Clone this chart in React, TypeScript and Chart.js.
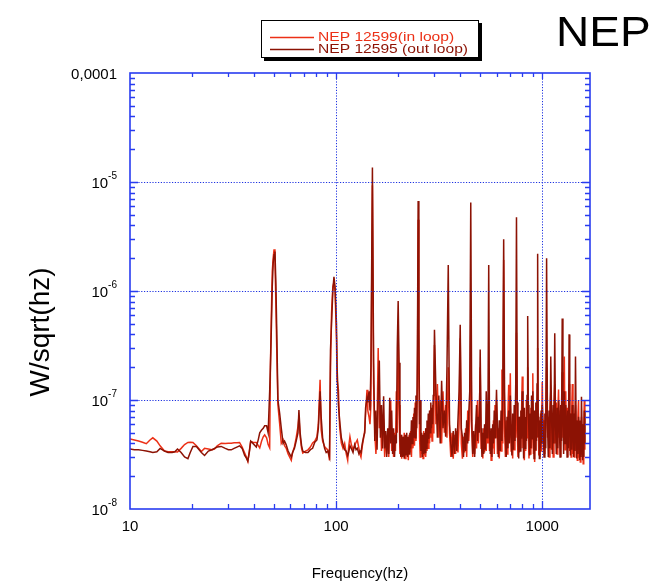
import React, { useEffect, useRef } from 'react';
import { Chart, registerables } from 'chart.js';

Chart.register(...registerables);

// ---------- data (values in units of 1e-8 W/sqrt(Hz)) ----------
const FREQ_A = [10, 10.5, 11, 11.5, 12, 12.5, 12.9, 13.5, 14, 14.7, 15.3, 16, 16.5, 17, 17.7, 18.4, 19.1, 19.6, 20.2, 21, 22.2, 23, 24, 25, 25.7, 26.5, 27.7, 29, 30, 31, 32, 33, 34, 35, 36, 36.7, 37.3, 38, 38.5, 39.5, 41, 42, 42.6, 43.5, 44.3, 45, 46, 46.8, 47.6];
const IN_A = [4.4, 4.3, 4.2, 4.1, 3.97, 4.3, 4.5, 4.2, 3.8, 3.4, 3.35, 3.35, 3.35, 3.33, 3.6, 3.9, 4.08, 4.1, 4.08, 3.8, 3.37, 3.6, 3.55, 3.5, 3.55, 3.8, 4.02, 4.0, 4.02, 4.02, 4.05, 4.06, 4.08, 3.7, 3.26, 3.0, 2.73, 3.5, 4.16, 4.1, 4.08, 3.8, 3.64, 4.2, 4.6, 4.79, 4.5, 3.9, 3.64];
const OUT_A = [3.55, 3.5, 3.5, 3.45, 3.4, 3.35, 3.3, 3.35, 3.6, 3.4, 3.3, 3.3, 3.35, 3.55, 3.3, 3.0, 2.9, 3.3, 3.75, 3.75, 3.3, 3.1, 3.4, 3.5, 3.6, 3.7, 3.75, 3.6, 3.5, 3.49, 3.6, 3.7, 3.8, 3.6, 3.1, 2.93, 2.75, 3.4, 4.2, 4.0, 3.7, 4.4, 5.0, 5.3, 5.5, 5.8, 5.8, 5.0, 12];

const FREQ_B = [48, 48.5, 49, 49.5, 50, 50.5, 51, 51.5, 52.2, 53.2, 54.2, 55.3, 56.2, 57.2, 58.5, 60.6, 61.5, 62.8, 64, 65.3, 66, 66.9, 68, 68.9, 71, 73, 75, 76.9, 78.8, 80.7, 82, 83.6, 84.6, 86, 87.9, 89.5, 91.2, 92.9, 93.9, 95, 96.4, 97.6, 98.8, 100.4, 101.1, 102.6, 104, 106, 108, 110, 112, 113.8, 115, 116.7, 118.5, 120.8, 123, 125, 126.7, 129, 130.5, 132, 134, 136, 137.7, 139, 141.2, 142.5, 144.4, 146, 147.5];
const IN_B = [20, 60, 150, 200, 241, 190, 80, 30, 9, 6.1, 4.0, 4.3, 3.8, 3.62, 3.2, 2.8, 3.3, 3.75, 4.5, 5.7, 7.0, 4.6, 3.6, 3.26, 3.4, 3.49, 3.7, 4.04, 4.2, 4.6, 6.0, 15.3, 5.33, 4.2, 3.75, 3.6, 3.49, 2.8, 20, 62.5, 109.5, 120, 102, 35.6, 15.3, 12.4, 5.7, 4.02, 3.6, 4.0, 3.2, 2.8, 3.7, 4.6, 3.9, 3.5, 3.8, 4.1, 4.3, 3.6, 3.2, 3.0, 3.8, 4.5, 5.3, 7.5, 12.4, 8.0, 7.0, 6.0, 9.0];
const OUT_B = [20, 45, 110, 180, 215, 230, 120, 45, 10, 7.6, 5.5, 4.0, 4.2, 3.9, 3.4, 3.0, 3.3, 3.6, 4.2, 5.0, 8.1, 5.0, 3.8, 3.4, 3.3, 3.3, 3.5, 3.6, 4.1, 4.3, 5.5, 12, 7, 4.5, 3.6, 3.3, 3.4, 3.0, 28.8, 50, 100, 135, 110, 50, 20, 9, 6.5, 4.5, 3.9, 3.5, 3.4, 3.1, 3.3, 3.8, 3.6, 3.3, 3.9, 3.5, 3.6, 3.2, 3.4, 3.3, 4.0, 4.6, 5.0, 8.5, 10.5, 9.5, 12, 8.0, 20];

const FREQ_C = [150, 152, 154, 156, 158, 160, 162, 164, 166, 168, 170, 172, 174, 176, 178, 180, 182, 184, 186, 188, 190, 192, 194, 196, 198, 200, 202, 204, 206, 208, 210, 212, 214, 216, 218, 220, 222, 224, 226, 228, 230, 232, 234, 236, 238, 240, 242, 244, 246, 248, 250, 252, 254, 256, 258, 260, 262, 264, 266, 268, 270, 272, 274, 276, 278, 280, 282, 284, 286, 288, 290, 292, 294, 296, 298];
const IN_C = [935, 14, 5, 3.2, 6, 30, 5.5, 8, 3.4, 5.5, 6, 3.0, 4.8, 3.2, 5.2, 3.0, 6, 10, 3.4, 4.8, 3.0, 5.0, 3.4, 12, 5, 40, 9, 3.2, 4.8, 2.9, 4.6, 3.1, 5.0, 2.9, 4.6, 3.2, 4.4, 2.8, 4.8, 3.3, 5.2, 3.0, 5.5, 3.6, 7.5, 3.8, 9.5, 4.2, 6.5, 13, 450, 25, 4.5, 3.0, 5.0, 3.2, 4.6, 2.9, 5.2, 3.1, 4.8, 3.0, 5.5, 3.4, 6.0, 3.6, 7.0, 4.0, 8.0, 4.5, 6.5, 4.2, 9.0, 5.0, 10];
const OUT_C = [1360, 22, 4.2, 8, 3.5, 12, 23, 4.5, 9, 3.6, 10.8, 3.6, 5.2, 3.0, 5.5, 3.2, 10.5, 4.0, 8, 3.2, 5.5, 3.0, 4.8, 4.0, 30, 81, 22, 4.4, 3.0, 4.8, 3.0, 4.6, 2.9, 4.8, 3.1, 5.0, 3.0, 4.6, 3.2, 5.0, 3.6, 6.5, 4.0, 7.0, 4.5, 8.5, 4.5, 11, 5.5, 30, 670, 45, 6.0, 10, 3.4, 5.0, 3.0, 4.8, 3.2, 5.0, 3.3, 5.5, 3.6, 6.5, 4.0, 7.5, 4.4, 8.0, 5.0, 9.5, 5.5, 8.5, 6.0, 11, 14];

const FREQ_D = [300, 305, 310, 315, 320, 325, 330, 335, 340, 345, 350, 355, 360, 365, 370, 375, 380, 385, 390, 395, 400, 405, 410, 415, 420, 425, 430, 435, 440, 445, 450, 455, 460, 465, 470, 475, 480, 485, 490, 495, 500, 505, 510, 515, 520, 525, 530, 535, 540, 545, 550, 555, 560, 565, 570, 575, 580, 585, 590, 595];
const IN_D = [32, 6, 14, 4.5, 10, 4.0, 12, 5, 9, 4.5, 20, 5, 3.0, 5.0, 2.9, 4.8, 3.2, 5.2, 3.3, 6.0, 36.9, 4.0, 2.9, 4.6, 3.3, 5.5, 3.0, 8.0, 4.2, 6.5, 50.6, 5.5, 3.0, 4.8, 3.2, 6.0, 3.6, 10, 4.0, 7, 20, 3.6, 5.0, 2.9, 5.5, 3.3, 6.0, 3.4, 8.5, 4.0, 7.3, 3.4, 5.0, 2.8, 5.2, 3.6, 6.5, 3.2, 9.0, 4.5];
const OUT_D = [44, 12, 4.5, 11, 4.0, 15, 5.5, 8, 4.6, 20, 173, 6, 4.0, 3.0, 5.2, 3.2, 5.5, 3.4, 6.5, 12, 49, 5.5, 4.6, 3.0, 5.0, 3.4, 6.5, 4.0, 7.5, 12, 650, 6.5, 3.2, 5.2, 3.0, 5.5, 9, 4.2, 7, 5.0, 29, 5.5, 3.0, 5.0, 3.2, 6.0, 3.5, 12, 4.5, 6.0, 173, 5.0, 3.2, 5.5, 3.0, 6.0, 4.0, 8.0, 4.5, 6.5];

const FREQ_E = [600, 606.25, 612.5, 618.75, 625, 631.25, 637.5, 643.75, 650, 656.25, 662.5, 668.75, 675, 681.25, 687.5, 693.75, 700, 706.25, 712.5, 718.75, 725, 731.25, 737.5, 743.75, 750, 756.25, 762.5, 768.75, 775, 781.25, 787.5, 793.75, 800, 806.25, 812.5, 818.75, 825, 831.25, 837.5, 843.75, 850, 856.25, 862.5, 868.75, 875, 881.25, 887.5, 893.75, 900, 906.25, 912.5, 918.75, 925, 931.25, 937.5, 943.75, 950, 956.25, 962.5, 968.75, 975, 981.25, 987.5, 993.75];
const IN_E = [10, 3.2, 5.5, 2.9, 6.0, 3.4, 19, 4.0, 192, 5.5, 3.0, 6.5, 3.2, 7.0, 13.8, 4.5, 17.6, 3.4, 6.0, 2.9, 6.5, 3.5, 9, 4.5, 41.5, 5.5, 3.0, 6.5, 3.3, 7.0, 3.6, 8.0, 16.4, 3.6, 7.0, 2.8, 6.0, 3.4, 10, 4.5, 20, 4.5, 2.9, 6.5, 3.2, 8.5, 3.6, 7.0, 17.6, 3.2, 7.0, 2.7, 6.5, 3.4, 9, 4.6, 30, 5.5, 3.1, 6.5, 3.0, 7.5, 3.4, 6.0];
const OUT_E = [12.4, 5.5, 3.0, 6.5, 3.4, 8, 4.2, 12, 298, 12, 4.6, 3.0, 7, 3.6, 8, 4.0, 11, 5.0, 3.1, 7.5, 3.5, 9, 4.2, 14, 474, 9.5, 4.5, 2.9, 7, 3.4, 8, 4.4, 12, 5.5, 2.9, 8.5, 3.6, 7, 4.2, 11, 59, 9, 4.5, 3.1, 7.5, 3.6, 11, 4.4, 12, 5.5, 2.9, 8, 3.5, 9.5, 4.2, 14, 220, 4.6, 7, 2.9, 6.5, 3.6, 8, 4.0];

const FREQ_F = [1000, 1010, 1020, 1030, 1040, 1050, 1060, 1070, 1080, 1090, 1100, 1110, 1120, 1130, 1140, 1150, 1160, 1170, 1180, 1190, 1200, 1210, 1220, 1230, 1240, 1250, 1260, 1270, 1280, 1290, 1300, 1310, 1320, 1330, 1340, 1350, 1360, 1370, 1380, 1390, 1400, 1410, 1420, 1430, 1440, 1450, 1460, 1470, 1480, 1490, 1500, 1510, 1520, 1530, 1540, 1550, 1560, 1570, 1580, 1590, 1600, 1610];
const IN_F = [14.7, 4, 6.5, 3.2, 8, 20, 4.5, 7, 3.0, 8.5, 12, 3.5, 7, 3.0, 9, 14, 4.0, 9.5, 3.2, 7.5, 12.5, 4.5, 8, 3.0, 9, 18, 4.5, 11, 25, 3.5, 12, 4.0, 8.5, 3.0, 7, 14, 3.4, 7.5, 3.0, 8, 14, 3.2, 6, 3.0, 7.5, 9, 3.5, 6.5, 2.8, 7, 10, 3.0, 6, 2.7, 5.5, 7, 3.2, 6, 2.6, 5.5, 10, 3.5];
const OUT_F = [9, 5.5, 3.0, 7.5, 3.6, 200, 6.5, 3.0, 8, 3.6, 25, 7, 3.2, 9, 4.0, 41, 6, 3.2, 8.5, 3.6, 10, 7, 3.0, 9, 4.2, 56, 7.5, 3.2, 12, 4.0, 9, 6.5, 3.0, 8, 3.6, 40, 6, 3.1, 7.5, 3.5, 9, 6.5, 3.0, 7.5, 3.4, 25, 6, 2.9, 6.5, 3.2, 7, 5.5, 2.8, 6.5, 3.0, 10.7, 5.5, 2.8, 6, 3.0, 8, 4];

const FREQ = [...FREQ_A, ...FREQ_B, ...FREQ_C, ...FREQ_D, ...FREQ_E, ...FREQ_F];
const IN_LOOP = [...IN_A, ...IN_B, ...IN_C, ...IN_D, ...IN_E, ...IN_F];
const OUT_LOOP = [...OUT_A, ...OUT_B, ...OUT_C, ...OUT_D, ...OUT_E, ...OUT_F];
const UNIT = 1e-8;

const SERIES_LABELS = ['NEP 12599(in loop)', 'NEP 12595 (out loop)'];
const X_DECADES = [10, 100, 1000];
const X_TICK_LABELS = ['10', '100', '1000'];
const Y_DECADES = [1e-8, 1e-7, 1e-6, 1e-5, 1e-4];
const Y_TICK_BASE = ['10', '10', '10', '10', '0,0001'];
const Y_TICK_SUP = ['-8', '-7', '-6', '-5', ''];

// ---------- style ----------
const RED = 'rgb(236,48,22)';
const DARK = 'rgb(140,18,4)';
const AXIS = 'rgb(40,60,240)';
const GRID = 'rgb(30,50,225)';
const FONT = '"Liberation Sans", Arial, Helvetica, sans-serif';

const decor = {
  id: 'decor',
  afterDatasetsDraw(chart: any) {
    const { ctx, chartArea: a } = chart;
    const xs = chart.scales.x;
    const ys = chart.scales.y;
    ctx.save();
    ctx.strokeStyle = GRID;
    ctx.lineWidth = 1;
    ctx.setLineDash([1.2, 1.6]);
    for (const v of X_DECADES) {
      if (v <= xs.min * 1.0001 || v >= xs.max / 1.0001) continue;
      const p = Math.round(xs.getPixelForValue(v)) + 0.5;
      ctx.beginPath(); ctx.moveTo(p, a.top); ctx.lineTo(p, a.bottom); ctx.stroke();
    }
    for (const v of Y_DECADES) {
      if (v <= ys.min * 1.0001 || v >= ys.max / 1.0001) continue;
      const p = Math.round(ys.getPixelForValue(v)) + 0.5;
      ctx.beginPath(); ctx.moveTo(a.left, p); ctx.lineTo(a.right, p); ctx.stroke();
    }
    ctx.setLineDash([]);
    ctx.strokeStyle = AXIS;
    ctx.lineWidth = 1.3;
    for (const d of X_DECADES) {
      for (let m = 1; m <= 9; m++) {
        const v = d * m;
        if (v <= xs.min * 1.0001 || v >= xs.max / 1.0001) continue;
        const p = Math.round(xs.getPixelForValue(v)) + 0.5;
        const len = m === 1 ? 8 : 5;
        ctx.beginPath();
        ctx.moveTo(p, a.bottom); ctx.lineTo(p, a.bottom - len);
        ctx.moveTo(p, a.top); ctx.lineTo(p, a.top + (m === 1 ? 6 : 4));
        ctx.stroke();
      }
    }
    for (const d of Y_DECADES) {
      for (let m = 1; m <= 9; m++) {
        const v = d * m;
        if (v <= ys.min * 1.0001 || v >= ys.max / 1.0001) continue;
        const p = Math.round(ys.getPixelForValue(v)) + 0.5;
        const len = m === 1 ? 8 : 5;
        ctx.beginPath();
        ctx.moveTo(a.left, p); ctx.lineTo(a.left + len, p);
        ctx.moveTo(a.right, p); ctx.lineTo(a.right - len, p);
        ctx.stroke();
      }
    }
    ctx.lineWidth = 1.6;
    ctx.strokeRect(a.left, a.top, a.right - a.left, a.bottom - a.top);
    ctx.restore();
  },
  afterDraw(chart: any) {
    const { ctx } = chart;
    const xs = chart.scales.x;
    const ys = chart.scales.y;
    ctx.save();
    ctx.fillStyle = '#000';
    ctx.textBaseline = 'alphabetic';
    Y_DECADES.forEach((v, i) => {
      const p = ys.getPixelForValue(v);
      const right = 117;
      const sup = Y_TICK_SUP[i];
      ctx.font = `10px ${FONT}`;
      const sw = sup ? ctx.measureText(sup).width : 0;
      if (sup) { ctx.textAlign = 'right'; ctx.fillText(sup, right, p - 3.5); }
      ctx.font = `15px ${FONT}`;
      ctx.textAlign = 'right';
      ctx.fillText(Y_TICK_BASE[i], right - sw, p + 5.5);
    });
    ctx.font = `15px ${FONT}`;
    ctx.textAlign = 'center';
    X_DECADES.forEach((v, i) => {
      ctx.fillText(X_TICK_LABELS[i], xs.getPixelForValue(v), 531);
    });
    ctx.fillText('Frequency(hz)', 360, 578);
    ctx.save();
    ctx.translate(41, 332);
    ctx.rotate(-Math.PI / 2);
    ctx.font = `28px ${FONT}`;
    ctx.textAlign = 'center';
    ctx.textBaseline = 'middle';
    ctx.fillText('W/sqrt(hz)', 0, 0);
    ctx.restore();
    ctx.save();
    ctx.translate(556, 46);
    ctx.scale(1.07, 1);
    ctx.font = `43px ${FONT}`;
    ctx.textAlign = 'left';
    ctx.fillText('NEP', 0, 0);
    ctx.restore();
    // legend box
    const bx = 261, by = 20, bw = 218, bh = 38;
    ctx.fillStyle = '#000';
    ctx.fillRect(bx + 3, by + 3, bw, bh);
    ctx.fillStyle = '#fff';
    ctx.fillRect(bx, by, bw, bh);
    ctx.strokeStyle = '#000';
    ctx.lineWidth = 1;
    ctx.strokeRect(bx + 0.5, by + 0.5, bw - 1, bh - 1);
    const ds = chart.data.datasets;
    const rows = [36.5, 48.5];
    ds.forEach((d: any, i: number) => {
      const yy = rows[i];
      ctx.strokeStyle = d.borderColor;
      ctx.lineWidth = 1.3;
      ctx.beginPath(); ctx.moveTo(270, yy + 1); ctx.lineTo(314, yy + 1); ctx.stroke();
      ctx.fillStyle = d.borderColor;
      ctx.save();
      ctx.translate(318, yy + 4.5);
      ctx.scale(1.2, 1);
      ctx.font = `13px ${FONT}`;
      ctx.textAlign = 'left';
      ctx.textBaseline = 'alphabetic';
      ctx.fillText(d.label, 0, 0);
      ctx.restore();
    });
    ctx.restore();
  },
};

export default function App() {
  const ref = useRef<HTMLCanvasElement>(null);
  useEffect(() => {
    if (!ref.current) return;
    const inPts = FREQ.map((f, i) => ({ x: f, y: IN_LOOP[i] * UNIT }));
    const outPts = FREQ.map((f, i) => ({ x: f, y: OUT_LOOP[i] * UNIT }));
    const chart = new Chart(ref.current, {
      type: 'line',
      data: {
        datasets: [
          { label: SERIES_LABELS[0], data: inPts, borderColor: RED, backgroundColor: RED, borderWidth: 1.5, pointRadius: 0, tension: 0, fill: false, order: 1 },
          { label: SERIES_LABELS[1], data: outPts, borderColor: DARK, backgroundColor: DARK, borderWidth: 1.5, pointRadius: 0, tension: 0, fill: false, order: 0 },
        ],
      },
      options: {
        animation: false,
        responsive: true,
        maintainAspectRatio: false,
        events: [],
        layout: { padding: { left: 130, top: 73, right: 76, bottom: 76 } },
        scales: {
          x: { type: 'logarithmic', min: 10, max: 1705, display: false },
          y: { type: 'logarithmic', min: 1e-8, max: 1e-4, display: false },
        },
        plugins: { legend: { display: false }, tooltip: { enabled: false }, title: { display: false } },
      },
      plugins: [decor],
    } as any);
    return () => chart.destroy();
  }, []);
  return (
    <div style={{ position: 'fixed', left: 0, top: 0, width: 666, height: 585, background: '#fff' }}>
      <canvas ref={ref} />
    </div>
  );
}
